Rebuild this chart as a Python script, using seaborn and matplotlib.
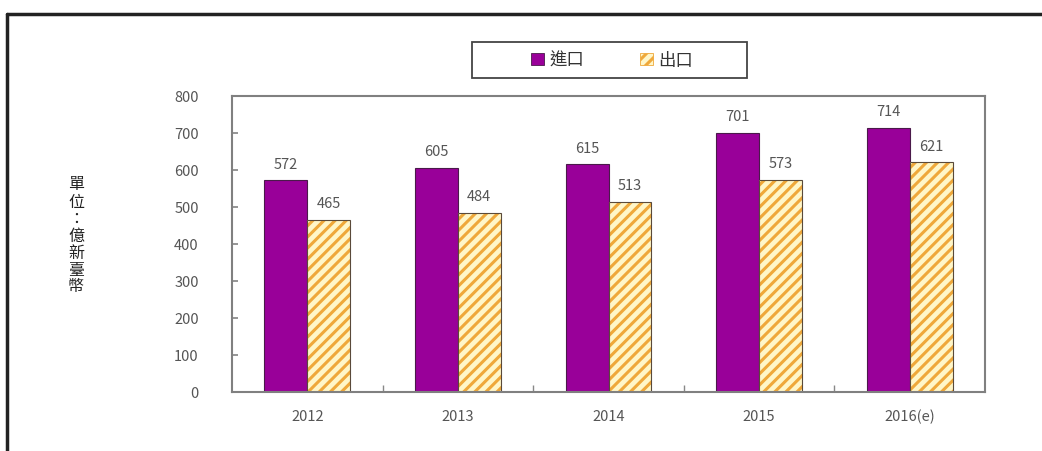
import matplotlib
matplotlib.use("Agg")
import matplotlib.pyplot as plt
import pandas as pd
import seaborn as sns
from matplotlib.patches import Patch, Rectangle
from matplotlib.lines import Line2D

# ---- data ----
years = ['2012', '2013', '2014', '2015', '2016(e)']
imports = [572, 605, 615, 701, 714]
exports = [465, 484, 513, 573, 621]
series_names = ['進口', '出口']
y_ticks = [0, 100, 200, 300, 400, 500, 600, 700, 800]
y_label = '單位：億新臺幣'

# ---- style ----
PURPLE = '#990099'
CREAM = '#FFF6C8'
ORANGE = '#EFA83A'
TEXT = '#555555'

sns.set_theme(style='white')
plt.rcParams['font.family'] = ['Noto Sans CJK TC', 'DejaVu Sans']
plt.rcParams['hatch.linewidth'] = 2.2

df = pd.DataFrame({
    'year': years * 2,
    'value': imports + exports,
    'series': [series_names[0]] * len(years) + [series_names[1]] * len(years),
})

W, H = 1042, 452
fig = plt.figure(figsize=(W / 100, H / 100), dpi=100)
ax = fig.add_axes([232 / W, 1 - 393 / H, (985 - 232) / W, (393 - 97) / H])

sns.barplot(data=df, x='year', y='value', hue='series', hue_order=series_names,
            palette=[PURPLE, CREAM], width=0.57, saturation=1, legend=False, ax=ax)

imp_c, exp_c = ax.containers[0], ax.containers[1]
for bar in imp_c:
    bar.set_edgecolor('#4a1a4a')
    bar.set_linewidth(0.8)
for bar in exp_c:
    bar.set_hatch('///')
    bar.set_edgecolor(ORANGE)
    bar.set_linewidth(0)
    ax.add_patch(Rectangle(bar.get_xy(), bar.get_width(), bar.get_height(),
                           fill=False, edgecolor='#5a4a3a', linewidth=0.8,
                           zorder=bar.get_zorder() + 0.1))

for c in (imp_c, exp_c):
    ax.bar_label(c, padding=7, color=TEXT, fontsize=10.5)

ax.set_ylim(0, 800)
ax.set_yticks(y_ticks)
ax.set_xlim(-0.5, len(years) - 0.5)
ax.set_xlabel('')
ax.set_ylabel('')
ax.tick_params(axis='y', direction='in', length=4, pad=24, labelcolor=TEXT,
               labelsize=10.5, color='#888888', left=True)
ax.tick_params(axis='x', which='major', length=0, pad=12, labelcolor=TEXT, labelsize=10.5)
ax.set_xticks([i + 0.5 for i in range(len(years) - 1)], minor=True)
ax.tick_params(axis='x', which='minor', direction='in', length=5, color='#888888', bottom=True)
for s in ax.spines.values():
    s.set_visible(True)
    s.set_color('#808080')
    s.set_linewidth(1.5)

# legend (frame drawn separately to match the wide box)
handles = [Patch(facecolor=PURPLE, edgecolor='#4a1a4a', linewidth=0.6),
           Patch(facecolor=CREAM, edgecolor=ORANGE, hatch='///', linewidth=0.6)]
leg = fig.legend(handles, series_names, loc='center', bbox_to_anchor=(612 / W, 1 - 61 / H),
                 ncol=2, frameon=False, handlelength=0.75, handleheight=0.75,
                 handletextpad=0.3, columnspacing=3.2, fontsize=12.5, labelcolor='#333333')
fig.add_artist(Rectangle((472 / W, 1 - 79 / H), (747 - 472) / W, (79 - 43) / H,
                         transform=fig.transFigure, fill=False, edgecolor='#444444',
                         linewidth=1.3))

fig.text(76 / W, 1 - 236 / H, '\n'.join(y_label), ha='center', va='center',
         fontsize=11.5, linespacing=1.0, color='#222222')

# outer frame
fig.add_artist(Line2D([7 / W, 7 / W], [0, 1 - 15 / H], transform=fig.transFigure,
                      color='#222222', linewidth=2.5))
fig.add_artist(Line2D([7 / W, 1], [1 - 15 / H, 1 - 15 / H], transform=fig.transFigure,
                      color='#222222', linewidth=2.5))

fig.savefig('out.png', dpi=100)
